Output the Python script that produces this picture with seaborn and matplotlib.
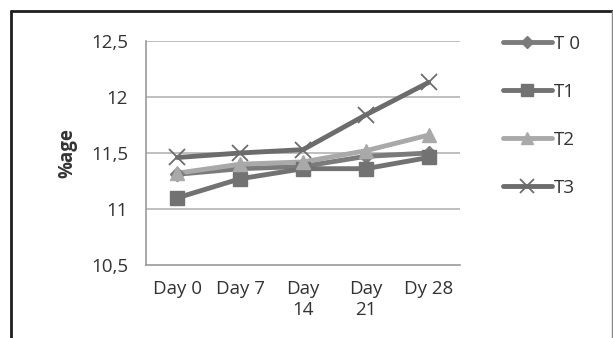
import matplotlib
matplotlib.use("Agg")
import matplotlib.pyplot as plt
from matplotlib.lines import Line2D
import seaborn as sns
import pandas as pd

days = ["Day 0", "Day 7", "Day\n14", "Day\n21", "Dy 28"]
t0 = [11.31, 11.36, 11.38, 11.47, 11.50]
t1 = [11.10, 11.27, 11.36, 11.36, 11.46]
t2 = [11.32, 11.40, 11.42, 11.52, 11.66]
t3 = [11.46, 11.50, 11.53, 11.84, 12.13]
series_names = ["T 0", "T1", "T2", "T3"]
y_ticks = [10.5, 11, 11.5, 12, 12.5]
y_tick_labels = ["10,5", "11", "11,5", "12", "12,5"]

colors = {"T 0": "#7b7b7b", "T1": "#727272", "T2": "#a9a9a9", "T3": "#6c6c6c"}
markers = {"T 0": "D", "T1": "s", "T2": "^", "T3": "x"}
msizes = {"T 0": 7, "T1": 10.5, "T2": 9.5, "T3": 11.5}
text_color = "#333333"

frames = []
for name, vals in zip(series_names, [t0, t1, t2, t3]):
    frames.append(pd.DataFrame({"day": list(range(len(days))), "value": vals, "series": name}))
df = pd.concat(frames, ignore_index=True)

sns.set_theme(style="white")
plt.rcParams["font.family"] = ["Open Sans", "DejaVu Sans"]

fig = plt.figure(figsize=(6.13, 3.38), dpi=100)
ax = fig.add_axes([146 / 613, 1 - 265 / 338, (460 - 146) / 613, (265 - 41) / 338])

sns.lineplot(data=df, x="day", y="value", hue="series", palette=colors,
             linewidth=3.5, legend=False, ax=ax)
# markers drawn per series so each can keep its own size
for name in series_names:
    sub = df[df["series"] == name]
    kw = dict(marker=markers[name], markersize=msizes[name], linestyle="none", color=colors[name])
    if markers[name] == "x":
        kw["markeredgewidth"] = 1.3
    ax.plot(sub["day"], sub["value"], **kw)

ax.set_xlim(-0.5, 4.5)
ax.set_ylim(10.5, 12.5)
ax.set_yticks(y_ticks)
ax.set_yticklabels(y_tick_labels)
ax.set_xticks(range(len(days)))
ax.set_xticklabels(days, linespacing=1.2)
ax.set_xticks([i - 0.5 for i in range(len(days) + 1)], minor=True)
ax.tick_params(axis="x", which="major", length=0, pad=11, labelsize=13.5, colors=text_color)
ax.tick_params(axis="x", which="minor", length=7, width=1, color="#9a9a9a", direction="out")
ax.tick_params(axis="y", length=7, width=1, color="#9a9a9a", direction="out", pad=6,
               labelsize=13.5, labelcolor=text_color)
for s in ["top", "right"]:
    ax.spines[s].set_visible(False)
for s in ["left", "bottom"]:
    ax.spines[s].set_color("#9a9a9a")
    ax.spines[s].set_linewidth(1.2)
for yv in y_ticks[1:]:
    ax.axhline(yv, color="#b4b4b4", linewidth=1.2, zorder=0)
ax.set_xlabel("")
ax.set_ylabel("%age", fontsize=13.5, fontweight="bold", color=text_color, labelpad=10)

handles = [Line2D([0], [0], color=colors[n], linewidth=3.5, marker=markers[n],
                  markersize=msizes[n] * 0.85, markeredgewidth=1.3 if n == "T3" else 1.0)
           for n in series_names]
fig.legend(handles, series_names, loc="upper left", bbox_to_anchor=(486 / 613, 1 - 18 / 338),
           frameon=False, fontsize=13.5, handlelength=2.6, handletextpad=0.1,
           labelspacing=1.6, labelcolor=text_color)

# outer frame: dark top and left edges, light right edge
fig.add_artist(Line2D([11 / 613, 612 / 613], [1 - 11 / 338, 1 - 11 / 338],
                      transform=fig.transFigure, color="#1e1e1e", linewidth=2))
fig.add_artist(Line2D([11 / 613, 11 / 613], [0, 1 - 11 / 338],
                      transform=fig.transFigure, color="#1e1e1e", linewidth=2))
fig.add_artist(Line2D([611.5 / 613, 611.5 / 613], [0, 1 - 11 / 338],
                      transform=fig.transFigure, color="#888888", linewidth=1))

fig.savefig("out.png", dpi=100)
